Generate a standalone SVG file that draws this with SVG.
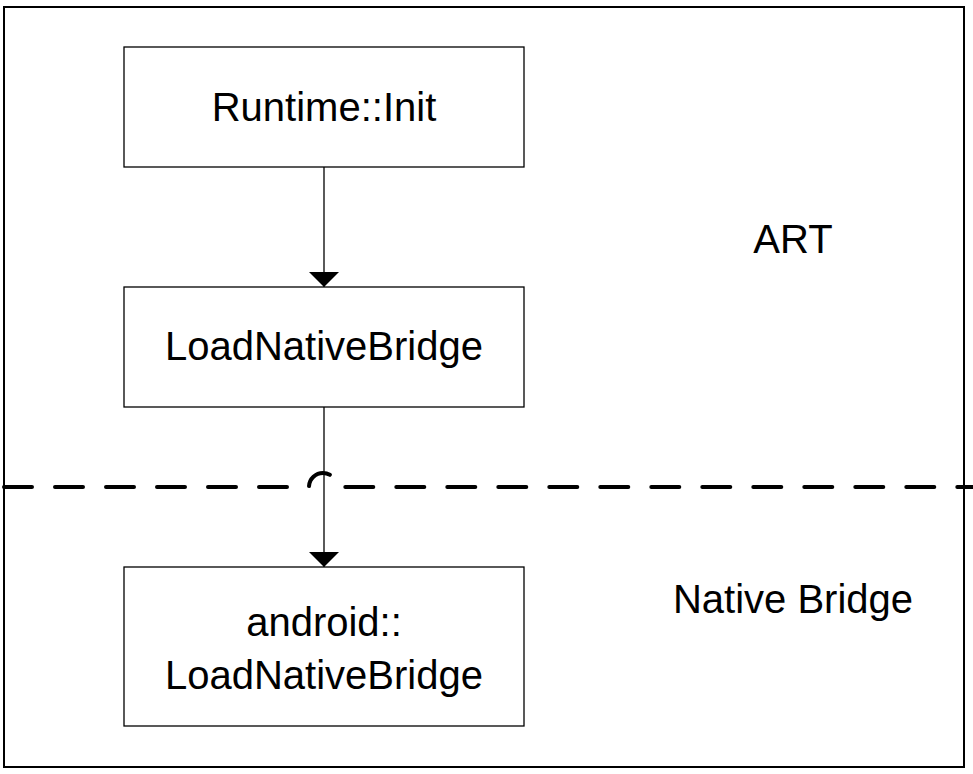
<svg xmlns="http://www.w3.org/2000/svg" width="973" height="774" viewBox="0 0 973 774">
<style>
.box{fill:#fff;stroke:#000;stroke-width:1.3}
.t{font-family:"Liberation Sans",Arial,sans-serif;font-size:40px;fill:#000;text-anchor:middle}
.edge{stroke:#000;stroke-width:1.3;fill:none}
</style>
<defs>
<marker id="arr" markerUnits="userSpaceOnUse" markerWidth="15" markerHeight="30" refX="15" refY="15" orient="auto">
<path d="M0,0 L15,15 L0,30 Z" fill="#000"/>
</marker>
</defs>
<rect width="973" height="774" fill="#fff"/>
<rect id="frame" x="4" y="7" width="960" height="760" fill="none" stroke="#000" stroke-width="2"/>
<g id="labels">
<text class="t" x="793" y="253">ART</text>
<text class="t" x="793" y="613">Native Bridge</text>
</g>
<g id="boundary">
<path d="M4,487 H309 A14,14 0 0 1 337,487 H973" fill="none" stroke="#000" stroke-width="4" stroke-dasharray="28 23" stroke-linecap="round"/>
</g>
<g id="connectors">
<line class="edge" x1="324" y1="167" x2="324" y2="287" marker-end="url(#arr)"/>
<line class="edge" x1="324" y1="407" x2="324" y2="567" marker-end="url(#arr)"/>
</g>
<g id="runtime-init">
<rect class="box" x="124" y="47" width="400" height="120"/>
<text class="t" x="324" y="121">Runtime::Init</text>
</g>
<g id="load-native-bridge">
<rect class="box" x="124" y="287" width="400" height="120"/>
<text class="t" x="324" y="360">LoadNativeBridge</text>
</g>
<g id="android-load-native-bridge">
<rect class="box" x="124" y="567" width="400" height="159"/>
<text class="t" x="324" y="636">android::</text>
<text class="t" x="324" y="689">LoadNativeBridge</text>
</g>
</svg>
